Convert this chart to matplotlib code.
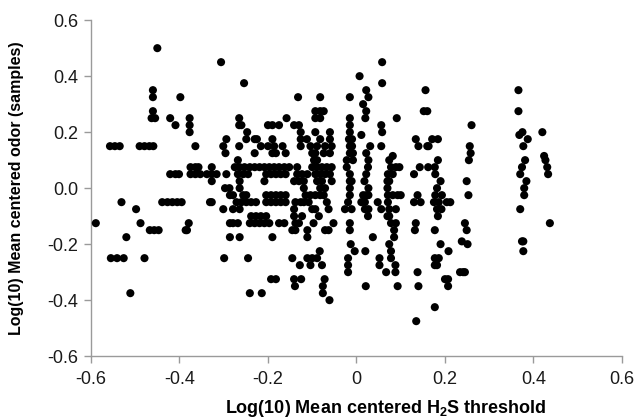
import matplotlib
matplotlib.use("Agg")
import matplotlib.pyplot as plt

# Odor values (y levels) and H2S threshold values (x) found at each level
odor_levels = [0.50, 0.45, 0.40, 0.375, 0.35, 0.325, 0.30, 0.275, 0.25, 0.225,
               0.20, 0.19, 0.175, 0.15, 0.125, 0.115, 0.10, 0.075, 0.05, 0.025,
               0.0, -0.025, -0.05, -0.075, -0.10, -0.125, -0.15, -0.175, -0.19,
               -0.20, -0.225, -0.25, -0.275, -0.30, -0.325, -0.35, -0.375,
               -0.40, -0.425, -0.475]

threshold_groups = [
    [-0.45],
    [-0.306, 0.058],
    [0.007],
    [-0.254, 0.058],
    [-0.46, 0.022, 0.156, 0.366],
    [-0.46, -0.398, -0.132, -0.082, -0.015, 0.027],
    [0.015],
    [-0.46, -0.093, -0.082, -0.074, 0.022, 0.152, 0.16, 0.366],
    [-0.463, -0.455, -0.421, -0.377, -0.265, -0.158, -0.093, -0.082, -0.015, 0.02, 0.091],
    [-0.409, -0.377, -0.265, -0.26, -0.2, -0.19, -0.175, -0.141, -0.13, -0.015, 0.056, 0.26],
    [-0.377, -0.247, -0.126, -0.093, -0.06, -0.015, 0.058, 0.375, 0.42],
    [0.011, 0.368],
    [-0.294, -0.249, -0.23, -0.225, -0.19, -0.126, -0.112, -0.082, -0.06, -0.017, -0.01,
     0.134, 0.171, 0.184, 0.387],
    [-0.557, -0.546, -0.535, -0.49, -0.479, -0.468, -0.459, -0.364, -0.301, -0.265, -0.216,
     -0.2, -0.186, -0.167, -0.126, -0.104, -0.089, -0.071, -0.056, -0.015, -0.01, 0.031,
     0.056, 0.14, 0.16, 0.163, 0.256, 0.377],
    [-0.296, -0.23, -0.19, -0.182, -0.16, -0.1, -0.093, -0.074, -0.06, -0.015, -0.008, 0.022, 0.258],
    [0.082, 0.424],
    [-0.268, -0.096, -0.089, -0.022, -0.008, 0.027, 0.074, 0.184, 0.254, 0.381, 0.427],
    [-0.375, -0.364, -0.357, -0.327, -0.275, -0.264, -0.253, -0.241, -0.23, -0.219, -0.208,
     -0.197, -0.186, -0.175, -0.163, -0.152, -0.134, -0.1, -0.089, -0.078, -0.067, -0.056,
     -0.022, 0.026, 0.078, 0.089, 0.097, 0.143, 0.162, 0.177, 0.374, 0.431],
    [-0.421, -0.409, -0.401, -0.375, -0.364, -0.353, -0.338, -0.327, -0.316, -0.294, -0.268,
     -0.256, -0.245, -0.204, -0.193, -0.182, -0.171, -0.16, -0.134, -0.123, -0.111, -0.093,
     -0.082, -0.071, -0.06, -0.015, 0.022, 0.071, 0.082, 0.13, 0.178, 0.37, 0.433],
    [-0.327, -0.264, -0.208, -0.141, -0.13, -0.119, -0.089, -0.078, -0.056, -0.015, -0.011,
     0.018, 0.07, 0.074, 0.19, 0.249, 0.384],
    [-0.297, -0.287, -0.264, -0.119, -0.082, -0.071, -0.015, 0.027, 0.07, 0.182, 0.379],
    [-0.286, -0.279, -0.256, -0.249, -0.204, -0.193, -0.182, -0.171, -0.16, -0.115, -0.104,
     -0.093, -0.082, -0.074, -0.015, 0.015, 0.022, 0.027, 0.071, 0.082, 0.093, 0.1, 0.138,
     0.178, 0.193, 0.253, 0.379],
    [-0.531, -0.439, -0.427, -0.416, -0.405, -0.395, -0.331, -0.327, -0.271, -0.26, -0.249,
     -0.238, -0.227, -0.204, -0.193, -0.182, -0.171, -0.16, -0.138, -0.126, -0.119, -0.108,
     -0.067, -0.019, 0.011, 0.019, 0.048, 0.071, 0.13, 0.145, 0.175, 0.186, 0.204, 0.212],
    [-0.498, -0.301, -0.279, -0.264, -0.141, -0.1, -0.093, -0.063, -0.026, -0.011, 0.019,
     0.027, 0.056, 0.074, 0.089, 0.182, 0.192, 0.37],
    [-0.238, -0.227, -0.216, -0.204, -0.141, -0.123, -0.085, 0.026, 0.07, 0.074, 0.184],
    [-0.589, -0.488, -0.379, -0.286, -0.279, -0.268, -0.241, -0.23, -0.219, -0.208, -0.197,
     -0.175, -0.163, -0.138, -0.13, -0.097, -0.052, -0.015, 0.078, 0.089, 0.134, 0.245, 0.437],
    [-0.467, -0.457, -0.447, -0.386, -0.383, -0.145, -0.138, -0.111, -0.071, -0.063, -0.015,
     0.085, 0.132, 0.177, 0.249],
    [-0.52, -0.286, -0.264, -0.19, -0.111, 0.037, 0.085],
    [0.238, 0.374, 0.377],
    [-0.013, 0.074, 0.19, 0.251],
    [-0.083, -0.004, 0.02, 0.078, 0.208, 0.377],
    [-0.555, -0.541, -0.526, -0.479, -0.299, -0.245, -0.145, -0.111, -0.1, -0.089, -0.019,
     0.052, 0.078, 0.177, 0.186],
    [-0.128, -0.104, -0.078, -0.019, 0.052, 0.088, 0.177, 0.182],
    [-0.019, 0.067, 0.088, 0.138, 0.234, 0.241, 0.245],
    [-0.193, -0.182, -0.141, -0.125, -0.072, 0.2, 0.207],
    [-0.139, -0.076, 0.021, 0.093, 0.14, 0.207],
    [-0.511, -0.241, -0.214, -0.076],
    [-0.061],
    [0.177],
    [0.135],
]

x_ticks = [-0.6, -0.4, -0.2, 0, 0.2, 0.4, 0.6]
x_tick_labels = ["-0.6", "-0.4", "-0.2", "0", "0.2", "0.4", "0.6"]
y_ticks = [-0.6, -0.4, -0.2, 0.0, 0.2, 0.4, 0.6]
y_tick_labels = ["-0.6", "-0.4", "-0.2", "0.0", "0.2", "0.4", "0.6"]

xs, ys = [], []
for lvl, grp in zip(odor_levels, threshold_groups):
    for xv in grp:
        xs.append(xv)
        ys.append(lvl)

plt.rcParams['font.family'] = ['Liberation Sans', 'DejaVu Sans']

fig = plt.figure(figsize=(6.36, 4.2), dpi=100)
ax = fig.add_axes([0.143, 0.152, 0.835, 0.800])
ax.scatter(xs, ys, s=34, color='black', edgecolors='none', zorder=3)

ax.set_xlim(-0.6, 0.6)
ax.set_ylim(-0.6, 0.6)
ax.set_xticks(x_ticks)
ax.set_xticklabels(x_tick_labels)
ax.set_yticks(y_ticks)
ax.set_yticklabels(y_tick_labels)

for side in ['top', 'right']:
    ax.spines[side].set_visible(False)
for side in ['left', 'bottom']:
    ax.spines[side].set_color('#9a9a9a')
    ax.spines[side].set_linewidth(1.0)
ax.tick_params(axis='both', direction='out', length=5, width=1.0, color='#9a9a9a',
               labelsize=13, labelcolor='#1a1a1a')
ax.tick_params(axis='x', pad=6)
ax.tick_params(axis='y', pad=4)

ax.set_xlabel('Log(10) Mean centered H$_\\mathregular{2}$S threshold', fontsize=13,
              fontweight='bold')
ax.xaxis.label.set_va('center')
ax.xaxis.set_label_coords(0.555, -0.155)
ax.set_ylabel('Log(10) Mean centered odor (samples)', fontsize=11.5,
              fontweight='bold')
ax.yaxis.label.set_va('center')
ax.yaxis.set_label_coords(-0.141, 0.5)

fig.savefig('out.png', dpi=100)
